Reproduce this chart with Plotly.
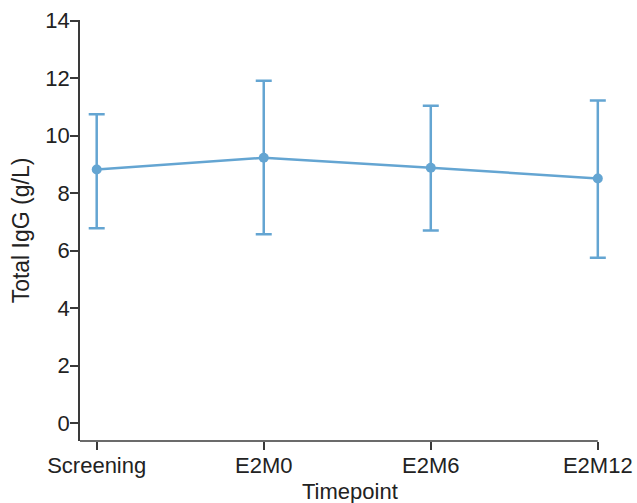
import plotly.graph_objects as go

timepoints = ["Screening", "E2M0", "E2M6", "E2M12"]
mean_igg = [8.82, 9.23, 8.88, 8.51]
upper_igg = [10.74, 11.91, 11.04, 11.22]
lower_igg = [6.78, 6.57, 6.70, 5.75]

err_plus = [u - m for u, m in zip(upper_igg, mean_igg)]
err_minus = [m - l for m, l in zip(mean_igg, lower_igg)]

color = "#64a5d2"
axis_color = "#3a3a3a"
font_family = "Liberation Sans, Arial, sans-serif"

fig = go.Figure()
fig.add_trace(go.Scatter(
    x=timepoints,
    y=mean_igg,
    mode="lines+markers",
    line=dict(color=color, width=2.5),
    marker=dict(color=color, size=10),
    error_y=dict(type="data", symmetric=False, array=err_plus, arrayminus=err_minus,
                 color=color, thickness=2.5, width=8),
    cliponaxis=False,
    showlegend=False,
))

# x-axis baseline from the left edge to the last category
fig.add_shape(type="line", xref="x", yref="paper", x0=-0.1, x1=3, y0=0, y1=0,
              line=dict(color=axis_color, width=1.5), layer="above")

# x-axis title, centred under the drawn axis line
fig.add_annotation(text="Timepoint", xref="paper", yref="paper", x=0.512, y=-0.119,
                   xanchor="center", yanchor="middle", showarrow=False,
                   font=dict(family=font_family, size=22, color="#222"))

fig.update_layout(
    width=637, height=503,
    margin=dict(l=80, r=30, t=20, b=62),
    paper_bgcolor="white", plot_bgcolor="white",
    font=dict(family=font_family, size=22, color="#222"),
    xaxis=dict(
        type="category",
        range=[-0.1, 3.055],
        automargin=False,
        showline=False,
        ticks="outside", ticklen=8, tickwidth=1.5, tickcolor=axis_color,
        ticklabelstandoff=-3,
        showgrid=False, zeroline=False,
        tickfont=dict(size=22, color="#222"),
    ),
    yaxis=dict(
        range=[-0.62, 14.02],
        automargin=False,
        tickvals=[0, 2, 4, 6, 8, 10, 12, 14],
        showline=True, linecolor=axis_color, linewidth=1.5,
        ticks="outside", ticklen=8, tickwidth=1.5, tickcolor=axis_color,
        ticklabelstandoff=-4,
        showgrid=False, zeroline=False,
        tickfont=dict(size=22, color="#222"),
        title=dict(text="Total IgG (g/L)", font=dict(size=23, color="#222"), standoff=9),
    ),
)

fig.write_html(
    "out.html",
    config={"displayModeBar": False},
    post_script="document.body.style.margin='0';document.body.style.overflow='hidden';",
)
